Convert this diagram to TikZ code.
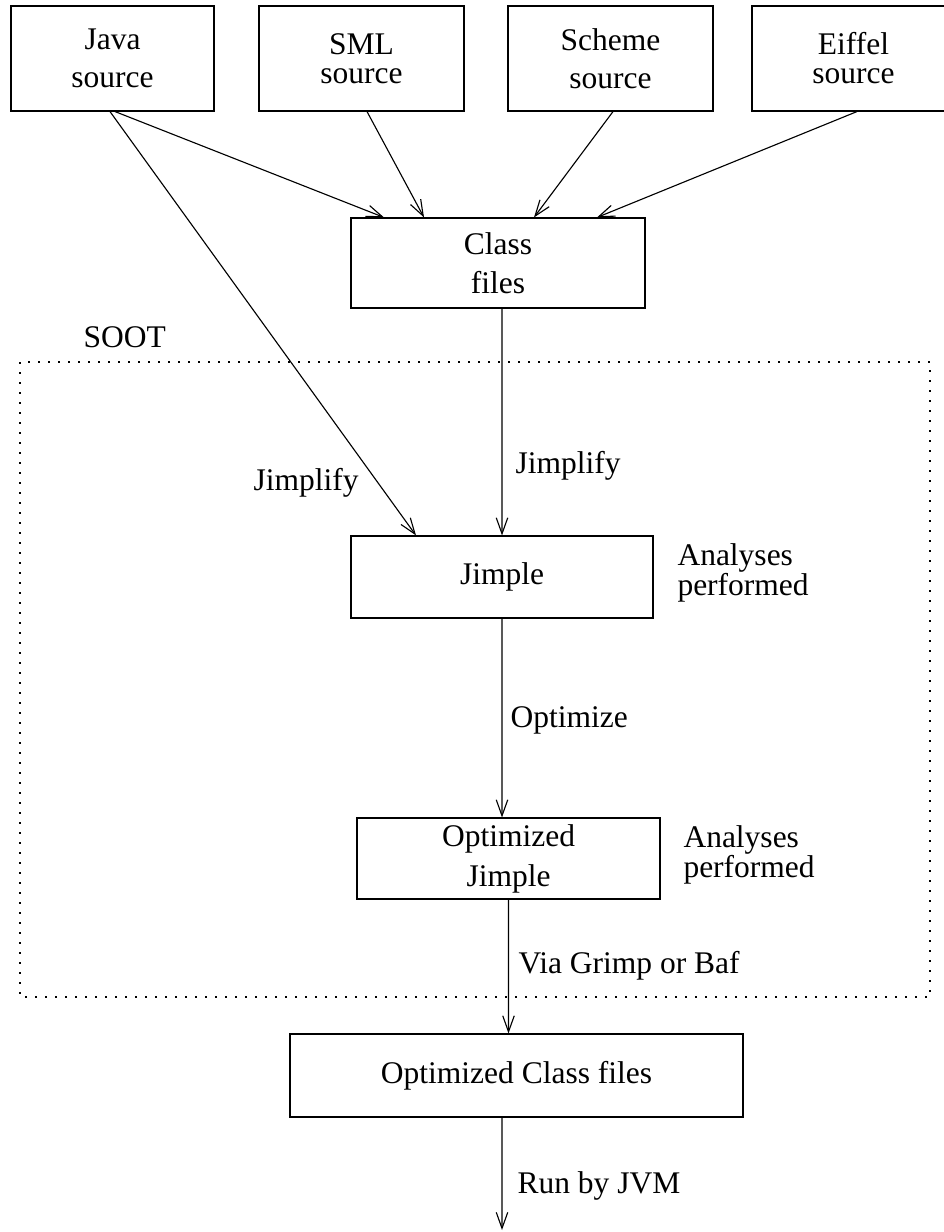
\documentclass[tikz,border=0pt]{standalone}
\usepackage{fontspec}
\setmainfont{Liberation Serif}
\usetikzlibrary{arrows.meta}
\tikzset{
  box/.style={draw,line width=0.45pt,align=center,inner sep=0pt},
  arr/.style={line width=0.45pt,-{Straight Barb[length=6.4pt,width=4.6pt,line width=0.45pt]}},
  lbl/.style={anchor=base west,inner sep=0pt},
  note/.style={anchor=west,align=left,inner sep=0pt},
  sootframe/.style={line width=0.45pt,dash pattern=on 0.6pt off 3.4pt}
}
\begin{document}
\begin{tikzpicture}[x=0.4pt,y=-0.4pt,font=\fontsize{12.6}{15}\selectfont]
\useasboundingbox (0,0) rectangle (943,1232);
% source languages
\node[box,minimum width=81.2pt,minimum height=42pt] (java) at (112.5,58.5) {Java\\source};
\node[box,minimum width=82pt,minimum height=42pt] (sml) at (361.5,58.5) {SML\\[-3.4pt]source};
\node[box,minimum width=82pt,minimum height=42pt] (scheme) at (610.5,58.5) {Scheme\\source};
\node[box,minimum width=81.2pt,minimum height=42pt] (eiffel) at (853.5,58.5) {Eiffel\\[-3.4pt]source};
% class files
\node[box,minimum width=117.6pt,minimum height=36pt] (cls) at (498,263) {Class\\[0.6pt]files};
% soot
\draw[sootframe] (20,362) rectangle (930,997);
\node[lbl] (soot) at (83,347) {SOOT};
\node[box,minimum width=120.8pt,minimum height=32.8pt] (jimple) at (502,577) {Jimple};
\node[note] (anaA) at (677,573) {Analyses\\[-3pt]performed};
\node[box,minimum width=121.2pt,minimum height=32.4pt] (opt) at (508.5,858.5) {Optimized\\[1pt]Jimple};
\node[note] (anaB) at (683,855) {Analyses\\[-3pt]performed};
% output
\node[box,minimum width=181.2pt,minimum height=33.2pt] (ocf) at (516.5,1075.5) {Optimized Class files};
\coordinate (jvm) at (502,1230);
%arrows
\draw[arr] ([xshift=1pt]java.south) -- ([xshift=-45.6pt]cls.north);
\draw[arr] ([xshift=-1pt]java.south) -- ([xshift=-34.4pt]jimple.north);
\draw[arr] ([xshift=2.2pt]sml.south) -- ([xshift=-29.6pt]cls.north);
\draw[arr] ([xshift=1pt]scheme.south) -- ([xshift=14.4pt]cls.north);
\draw[arr] ([xshift=1.4pt]eiffel.south) -- ([xshift=39.6pt]cls.north);
\draw[arr] ([xshift=1.6pt]cls.south) -- (jimple.north);
\draw[arr] (jimple.south) -- ([xshift=-2.6pt]opt.north);
\draw[arr] (opt.south) -- ([xshift=-3.2pt]ocf.north);
\draw[arr] ([xshift=-5.8pt]ocf.south) -- (jvm);
%labels
\node[lbl] (jimpA) at (253,490) {Jimplify};
\node[lbl] (jimpB) at (515,473) {Jimplify};
\node[lbl] (optz) at (510,727) {Optimize};
\node[lbl] (via) at (518,973) {Via Grimp or Baf};
\node[lbl] (run) at (517,1193) {Run by JVM};
\end{tikzpicture}
\end{document}
